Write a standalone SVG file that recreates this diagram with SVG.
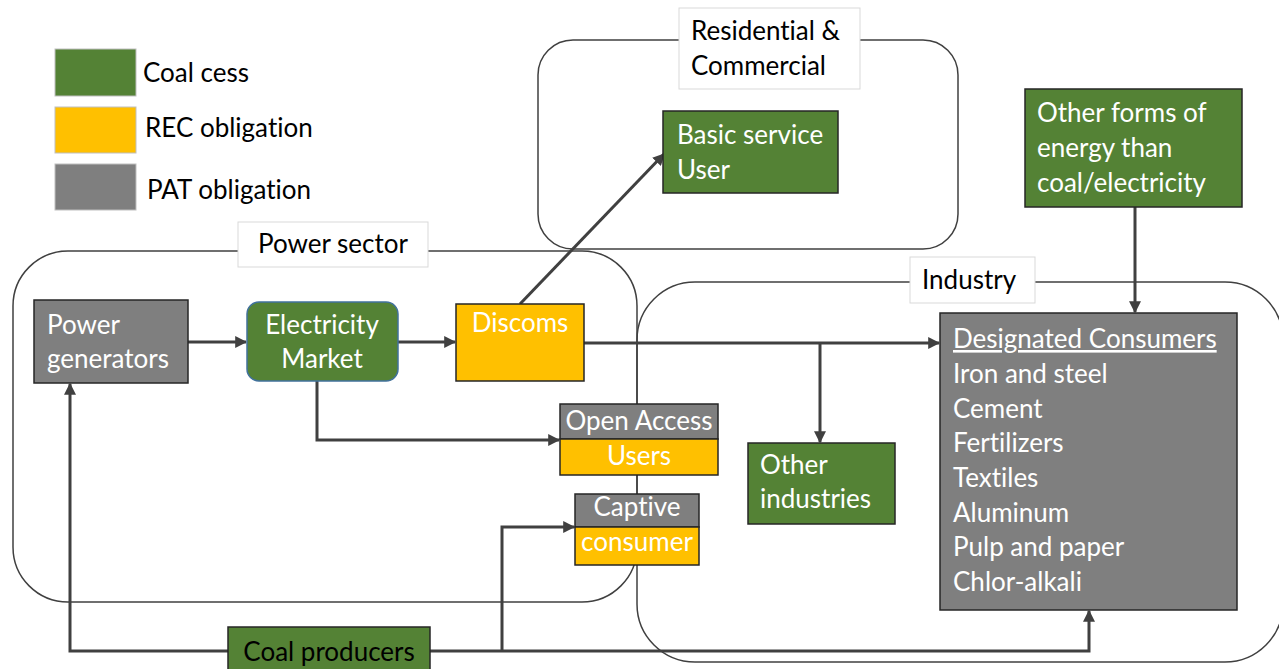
<svg xmlns="http://www.w3.org/2000/svg" width="1279" height="669" viewBox="0 0 1279 669">
<defs>
<style>
text{font-family:Lato,"Liberation Sans",sans-serif;font-size:26px;font-variant-ligatures:none;}
.w{fill:#ffffff;}
.k{fill:#000000;}
.g{fill:#548235;stroke:#262626;stroke-width:1.5;}
.y{fill:#FFC000;stroke:#262626;stroke-width:1.5;}
.gr{fill:#7F7F7F;stroke:#262626;stroke-width:1.5;}
.cont{fill:none;stroke:#404040;stroke-width:1.5;}
.lbl{fill:#ffffff;stroke:#D9D9D9;stroke-width:1;}
.c{fill:none;stroke:#404040;stroke-width:3;}
.leg{stroke:#BFBFBF;stroke-width:1;}
</style>
<marker id="ah" viewBox="0 0 10 10" refX="9" refY="5" markerWidth="4" markerHeight="4" orient="auto" markerUnits="strokeWidth">
<path d="M0,0 L10,5 L0,10 z" fill="#404040"/>
</marker>
</defs>
<rect width="1279" height="669" fill="#ffffff"/>

<g id="legend">
<rect x="55" y="49" width="81" height="47" fill="#548235" class="leg"/>
<text x="143" y="82" class="k">Coal cess</text>
<rect x="55" y="107" width="81" height="46" fill="#FFC000" class="leg"/>
<text x="145" y="137" class="k">REC obligation</text>
<rect x="55" y="164" width="81" height="46" fill="#7F7F7F" class="leg"/>
<text x="147" y="199" class="k">PAT obligation</text>
</g>

<g id="residential-commercial">
<rect x="538" y="40" width="420" height="209" rx="35" class="cont"/>
<rect x="679" y="8" width="181" height="81" class="lbl"/>
<text x="691" y="40" class="k">Residential &amp;</text>
<text x="691" y="75" class="k">Commercial</text>
</g>

<g id="power-sector">
<rect x="13" y="251" width="624" height="351" rx="55" class="cont"/>
<rect x="238" y="222" width="190" height="45" class="lbl"/>
<text x="333" y="253" class="k" text-anchor="middle">Power sector</text>
</g>

<g id="industry">
<rect x="637" y="282" width="646" height="380" rx="58" class="cont"/>
<rect x="910" y="257" width="125" height="46" class="lbl"/>
<text x="922" y="289" class="k">Industry</text>
</g>

<g id="connectors">
<line x1="188" y1="342" x2="246" y2="342" class="c" marker-end="url(#ah)"/>
<line x1="398" y1="342" x2="455" y2="342" class="c" marker-end="url(#ah)"/>
<line x1="520" y1="304" x2="664" y2="154" class="c" marker-end="url(#ah)"/>
<line x1="584" y1="343" x2="939" y2="343" class="c" marker-end="url(#ah)"/>
<line x1="820" y1="343" x2="820" y2="442" class="c" marker-end="url(#ah)"/>
<polyline points="317,381 317,440 559,440" class="c" marker-end="url(#ah)"/>
<line x1="1135" y1="207" x2="1135" y2="312" class="c" marker-end="url(#ah)"/>
<polyline points="228,651 70,651 70,384" class="c" marker-end="url(#ah)"/>
<polyline points="430,651 1089,651 1089,611" class="c" marker-end="url(#ah)"/>
<polyline points="502,651 502,527 574,527" class="c" marker-end="url(#ah)"/>
</g>

<g id="basic-service-user">
<rect x="663" y="111" width="175" height="82" class="g"/>
<text x="677" y="144" class="w">Basic service</text>
<text x="677" y="179" class="w">User</text>
</g>

<g id="other-forms">
<rect x="1025" y="89" width="217" height="118" class="g"/>
<text x="1037" y="122" class="w">Other forms of</text>
<text x="1037" y="157" class="w">energy than</text>
<text x="1037" y="192" class="w">coal/electricity</text>
</g>

<g id="power-generators">
<rect x="34" y="300" width="154" height="83" class="gr"/>
<text x="47" y="334" class="w">Power</text>
<text x="47" y="368" class="w">generators</text>
</g>

<g id="electricity-market">
<rect x="247" y="302" width="151" height="79" rx="12" fill="#548235" stroke="#41719C" stroke-width="1.5"/>
<text x="322" y="334" class="w" text-anchor="middle">Electricity</text>
<text x="322" y="368" class="w" text-anchor="middle">Market</text>
</g>

<g id="discoms">
<rect x="456" y="304" width="128" height="77" class="y"/>
<text x="520" y="332" class="w" text-anchor="middle">Discoms</text>
</g>

<g id="open-access-users">
<rect x="560" y="404" width="158" height="35" class="gr"/>
<rect x="560" y="439" width="158" height="36" class="y"/>
<text x="639" y="430" class="w" text-anchor="middle">Open Access</text>
<text x="639" y="465" class="w" text-anchor="middle">Users</text>
</g>

<g id="captive-consumer">
<rect x="575" y="494" width="124" height="33" class="gr"/>
<rect x="575" y="527" width="124" height="38" class="y"/>
<text x="637" y="516" class="w" text-anchor="middle">Captive</text>
<text x="637" y="551" class="w" text-anchor="middle">consumer</text>
</g>

<g id="other-industries">
<rect x="748" y="443" width="147" height="81" class="g"/>
<text x="760" y="474" class="w">Other</text>
<text x="760" y="508" class="w">industries</text>
</g>

<g id="designated-consumers">
<rect x="940" y="313" width="297" height="297" class="gr"/>
<text x="953" y="348" class="w" text-decoration="underline">Designated Consumers</text>
<text x="953" y="383" class="w">Iron and steel</text>
<text x="953" y="418" class="w">Cement</text>
<text x="953" y="452" class="w">Fertilizers</text>
<text x="953" y="487" class="w">Textiles</text>
<text x="953" y="522" class="w">Aluminum</text>
<text x="953" y="556" class="w">Pulp and paper</text>
<text x="953" y="591" class="w">Chlor-alkali</text>
</g>

<g id="coal-producers">
<rect x="228" y="627" width="202" height="50" class="g"/>
<text x="329" y="661" class="k" text-anchor="middle">Coal producers</text>
</g>
</svg>
